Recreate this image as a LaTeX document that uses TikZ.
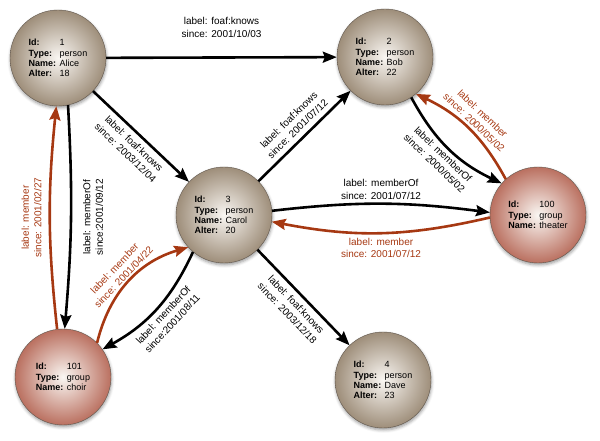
\documentclass[tikz,border=0pt]{standalone}
\usepackage{fontspec}
\setmainfont{Liberation Sans}
\usetikzlibrary{arrows.meta,shadows.blur}

\definecolor{persontan}{RGB}{158,142,122}
\definecolor{grouprose}{RGB}{186,112,96}
\definecolor{memberred}{RGB}{166,56,18}
\definecolor{rimgray}{RGB}{95,85,75}

\newcommand{\field}[2]{\makebox[31pt][l]{\textbf{#1}}#2}

\begin{document}
\begin{tikzpicture}[x=1pt,y=1pt,
    person/.style={circle, draw=rimgray, thin, minimum size=96pt, inner sep=0pt,
      inner color={rgb,255:red,250;green,247;blue,243}, outer color=persontan,
      blur shadow={shadow xshift=0.5pt, shadow yshift=-2pt, shadow blur radius=3pt, shadow opacity=40},
      font=\fontsize{9}{10.3}\selectfont, align=left},
    group/.style={person, outer color=grouprose},
    link/.style={line width=2.6pt, -{Stealth[length=14pt,width=11pt,inset=2pt]}},
    member/.style={link, draw=memberred},
    tag/.style={font=\fontsize{10}{12.5}\selectfont, align=center, inner sep=1pt},
    redtag/.style={tag, text=memberred}]
  \useasboundingbox (0,0) rectangle (600,441);

  \node[person] (alice) at (58,383) {\field{Id:}{1}\\\field{Type:}{person}\\\field{Name:}{Alice}\\\field{Alter:}{18}};
  \node[person] (bob) at (385,384) {\field{Id:}{2}\\\field{Type:}{person}\\\field{Name:}{Bob}\\\field{Alter:}{22}};
  \node[person] (carol) at (224,226) {\field{Id:}{3}\\\field{Type:}{person}\\\field{Name:}{Carol}\\\field{Alter:}{20}};
  \node[person] (dave) at (383,61) {\field{Id:}{4}\\\field{Type:}{person}\\\field{Name:}{Dave}\\\field{Alter:}{23}};
  \node[group] (theater) at (538,226) {\field{Id:}{100}\\\field{Type:}{group}\\\field{Name:}{theater}};
  \node[group] (choir) at (63,64) {\field{Id:}{101}\\\field{Type:}{group}\\\field{Name:}{choir}};

  % foaf:knows
  \draw[link] (alice) -- (bob) node[tag, midway, above=18pt] {label: foaf:knows\\since: 2001/10/03};
  \draw[link] (alice) -- (carol) node[tag, midway, sloped, below=4pt] {label: foaf:knows\\since: 2003/12/04};
  \draw[link] (carol) -- (bob) node[tag, midway, sloped, above=4pt] {label: foaf:knows\\since: 2001/07/12};
  \draw[link] (carol) -- (dave) node[tag, midway, sloped, below=4pt] {label: foaf:knows\\since: 2003/12/18};

  % memberOf / member
  \draw[link] (bob.-57) to[bend right=18] node[tag, sloped, below=2pt] {label: memberOf\\since: 2000/05/02} (theater.139);
  \draw[member] (theater.132) to[bend right=18] node[redtag, sloped, above=2pt] {label: member\\since: 2000/05/02} (bob.-50);
  \draw[link] (carol.5) to[bend left=7] node[tag, above=2pt] {label: memberOf\\since: 2001/07/12} (theater.177);
  \draw[member] (theater.183) to[bend left=12] node[redtag, below=3pt] {label: member\\since: 2001/07/12} (carol.-8);
  \draw[link] (alice.-78) to[bend left=4] node[tag, rotate=90, below=10pt] {label: memberOf\\since:2001/09/12} (choir.88);
  \draw[member] (choir.97) to[bend left=6] node[redtag, rotate=90, above=6pt] {label: member\\since: 2001/02/27} (alice.-92);
  \draw[member] (choir.45) to[bend left=30] node[redtag, sloped, above=1pt] {label: member\\since: 2001/04/22} (carol.-138);
  \draw[link] (carol.-130) to[bend left=18] node[tag, sloped, below=3pt] {label: memberOf\\since:2001/08/11} (choir.35);
\end{tikzpicture}
\end{document}
